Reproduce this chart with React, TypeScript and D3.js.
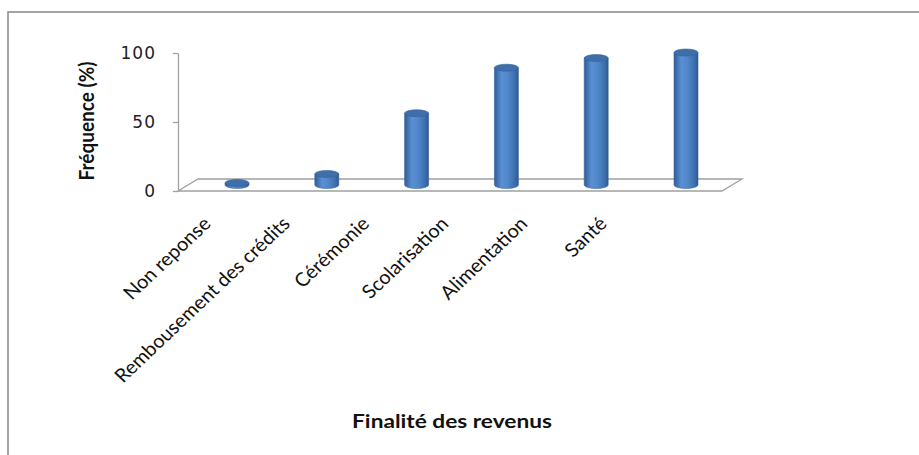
import React, { useRef, useEffect } from 'react';
import * as d3 from 'd3';

// data
const categories = [
  'Non reponse',
  'Rembousement des crédits',
  'Cérémonie',
  'Scolarisation',
  'Alimentation',
  'Santé',
];
const frequencies = [1.5, 8, 52, 85, 92, 96];
const yTicks = [0, 50, 100];

const App = () => {
  const ref = useRef<SVGSVGElement>(null);

  useEffect(() => {
    if (!ref.current) return;
    const svg = d3.select(ref.current);
    svg.selectAll('*').remove();

    const depth = { dx: 20, dy: -12 };

    // frame
    svg.append('path')
      .attr('d', 'M8,455 L8,12 L919,12')
      .attr('fill', 'none')
      .attr('stroke', '#868686')
      .attr('stroke-width', 1.5);

    const y = d3.scaleLinear().domain([0, 100]).range([191, 53]);
    const x = d3.scalePoint<string>().domain(categories).range([237, 686]);
    const xLabel = d3.scalePoint<string>().domain(categories).range([212, 608]);
    const axisX = 178;
    const floorRight = 722;

    // floor
    const y0 = y(0);
    svg.append('path')
      .attr('d', `M${axisX},${y0} L${axisX + depth.dx},${y0 + depth.dy} L${floorRight + depth.dx},${y0 + depth.dy} L${floorRight},${y0} Z`)
      .attr('fill', 'none')
      .attr('stroke', '#a0a0a0')
      .attr('stroke-width', 1.3);

    // y axis
    const yAxis = svg.append('g')
      .attr('transform', `translate(${axisX},0)`)
      .call(d3.axisLeft(y).tickValues(yTicks).tickSize(5).tickSizeOuter(0).tickPadding(17));
    yAxis.select('.domain').attr('stroke', '#a0a0a0').attr('stroke-width', 1.3);
    yAxis.selectAll('.tick line').attr('stroke', '#a0a0a0').attr('stroke-width', 1.3);
    yAxis.selectAll('.tick text')
      .attr('font-family', 'DejaVu Sans')
      .attr('font-size', 17)
      .attr('fill', '#222')
      .attr('letter-spacing', 1);

    // gradient for cylinders
    const defs = svg.append('defs');
    const grad = defs.append('linearGradient').attr('id', 'cyl').attr('x1', 0).attr('x2', 1).attr('y1', 0).attr('y2', 0);
    [[0, '#2f5d95'], [0.3, '#5a8fd3'], [0.55, '#5088cb'], [0.85, '#3e6fae'], [1, '#2c5890']].forEach(([o, c]) =>
      grad.append('stop').attr('offset', o as number).attr('stop-color', c as string));

    const yBar = d3.scaleLinear().domain([0, 100]).range([y(0) + depth.dy / 2, y(100) + depth.dy / 2]);
    const w = 24;
    const ry = 3.5;

    const bars = svg.append('g');
    categories.forEach((c, i) => {
      const cx = x(c)!;
      const yb = yBar(0);
      const yt = yBar(frequencies[i]);
      const g = bars.append('g');
      g.append('path')
        .attr('d', `M${cx - w / 2},${yt} L${cx - w / 2},${yb} A${w / 2},${ry} 0 0 0 ${cx + w / 2},${yb} L${cx + w / 2},${yt} Z`)
        .attr('fill', 'url(#cyl)')
        .attr('stroke', '#3a679f')
        .attr('stroke-width', 0.6);
      g.append('ellipse')
        .attr('cx', cx)
        .attr('cy', yt)
        .attr('rx', w / 2)
        .attr('ry', ry)
        .attr('fill', '#3f6fab')
        .attr('stroke', '#35609a')
        .attr('stroke-width', 0.6);
    });

    // category labels
    svg.append('g').selectAll('text')
      .data(categories)
      .join('text')
      .attr('transform', d => `translate(${xLabel(d)},${y0 + 34}) scale(1.06,1) rotate(-45)`)
      .attr('text-anchor', 'end')
      .attr('font-family', 'Lato')
      .attr('font-size', 19)
      .attr('fill', '#111')
      .text(d => d);

    // axis titles
    svg.append('text')
      .attr('transform', `translate(94,121) scale(1.12,1) rotate(-90)`)
      .attr('text-anchor', 'middle')
      .attr('font-family', 'Lato')
      .attr('font-weight', 'bold')
      .attr('font-size', 19)
      .attr('fill', '#111')
      .text('Fréquence (%)');

    svg.append('text')
      .attr('transform', `translate(452,428) scale(1.26,1)`)
      .attr('text-anchor', 'middle')
      .attr('font-family', 'Lato')
      .attr('font-weight', 'bold')
      .attr('font-size', 18)
      .attr('fill', '#111')
      .text('Finalité des revenus');
  }, []);

  return (
    <svg
      ref={ref}
      width={919}
      height={455}
      style={{ position: 'absolute', left: 0, top: 0, background: '#fff' }}
    />
  );
};

export default App;
